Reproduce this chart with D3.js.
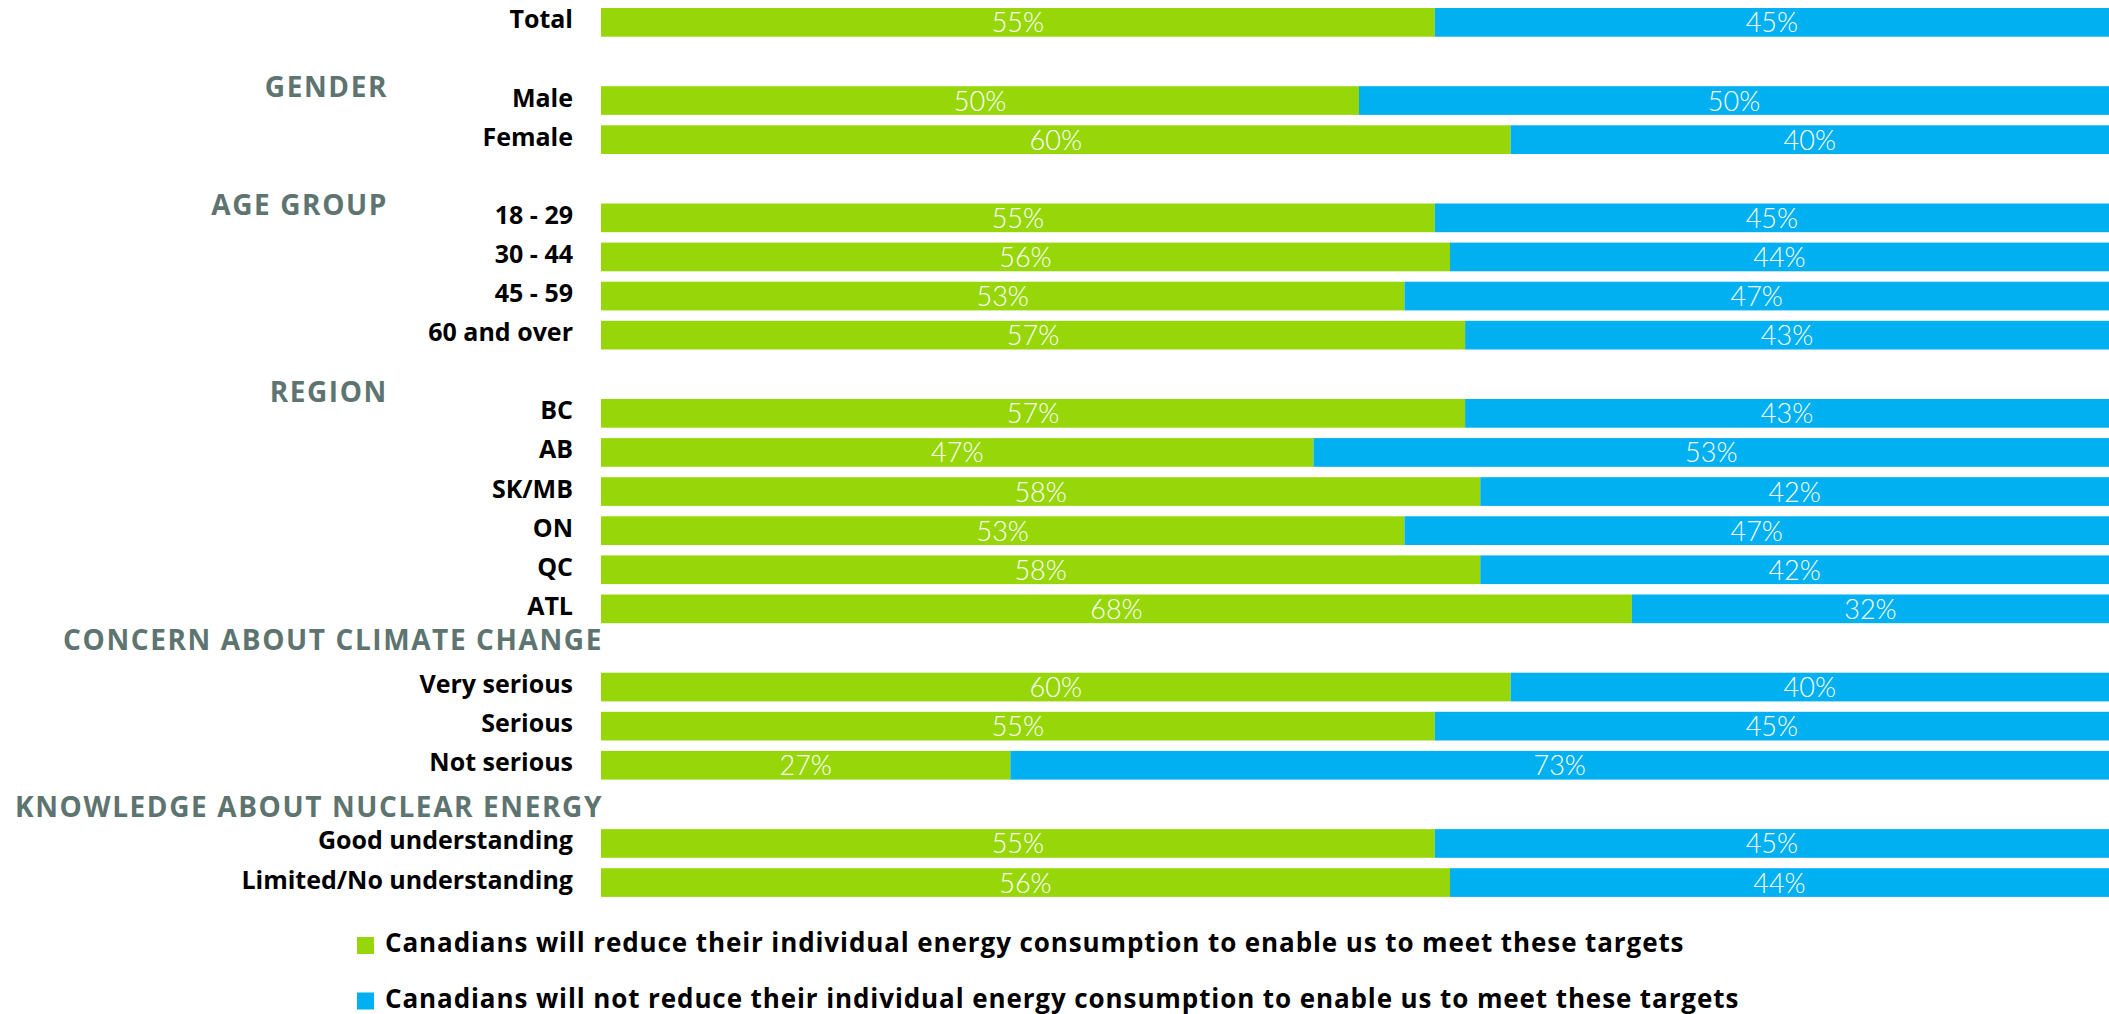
<!DOCTYPE html>
<html>
<head>
<meta charset="utf-8">
<script src="https://cdn.jsdelivr.net/npm/d3@7"></script>
<style>
  html, body { margin: 0; padding: 0; background: #fff; overflow: hidden; }
  svg { display: block; }
</style>
</head>
<body>
<svg id="chart" width="2109" height="1014"></svg>
<script>
// ---------------- DATA ----------------
const categories = ["Total", "Male", "Female", "18 - 29", "30 - 44", "45 - 59", "60 and over",
  "BC", "AB", "SK/MB", "ON", "QC", "ATL", "Very serious", "Serious", "Not serious",
  "Good understanding", "Limited/No understanding"];
const groupNames = ["", "GENDER", "AGE GROUP", "REGION", "CONCERN ABOUT CLIMATE CHANGE", "KNOWLEDGE ABOUT NUCLEAR ENERGY"];
const groupSizes = [1, 2, 4, 6, 3, 2];
const willReduce    = [55, 50, 60, 55, 56, 53, 57, 57, 47, 58, 53, 58, 68, 60, 55, 27, 55, 56];
const willNotReduce = [45, 50, 40, 45, 44, 47, 43, 43, 53, 42, 47, 42, 32, 40, 45, 73, 45, 44];
const seriesNames = [
  "Canadians will reduce their individual energy consumption to enable us to meet these targets",
  "Canadians will not reduce their individual energy consumption to enable us to meet these targets"
];

// ---------------- STYLE / LAYOUT ----------------
const W = 2109, H = 1014;
const colors = ["#97d70a", "#00b0f0"];
const headerColor = "#5e7470";
const headerOffsets = [0, -0.34, -0.33, -0.55, -1.2, -0.93]; // in row steps, relative to first row of the group
const headerRight = [0, 388, 388, 388, 603, 603];
const labelFont = "'Open Sans', Lato, sans-serif";
const valFont = "Lato, 'Open Sans', sans-serif";
const svg = d3.select("#chart");

// build row slots: group 0 has no gap, others preceded by one gap slot
const rows = [];
const headers = [];
let slot = 0, ci = 0;
groupSizes.forEach((n, g) => {
  if (g > 0) slot++; // gap slot
  if (groupNames[g]) headers.push({ name: groupNames[g], slot: slot, group: g });
  for (let k = 0; k < n; k++) {
    rows.push({ cat: categories[ci], a: willReduce[ci], b: willNotReduce[ci], slot: slot, group: g });
    slot++; ci++;
  }
});
const nSlots = slot;

const y = d3.scaleBand()
  .domain(d3.range(nSlots))
  .range([8, 8 + nSlots * 39.1 - 0.266 * 39.1])
  .paddingInner(0.266)
  .paddingOuter(0);

const x = d3.scaleLinear().domain([0, 100]).range([601, 2117]);
const step = y.step();
const bw = y.bandwidth();

// bars
const rowG = svg.append("g").selectAll("g").data(rows).join("g")
  .attr("transform", d => `translate(0,${y(d.slot)})`);

rowG.append("rect")
  .attr("x", x(0))
  .attr("y", 0)
  .attr("width", d => x(d.a) - x(0))
  .attr("height", bw)
  .attr("fill", colors[0]);

rowG.append("rect")
  .attr("x", d => x(d.a))
  .attr("y", 0)
  .attr("width", d => x(d.a + d.b) - x(d.a))
  .attr("height", bw)
  .attr("fill", colors[1]);

// value labels (centered on visible part of each segment)
rowG.append("text")
  .attr("x", d => (x(0) + x(d.a)) / 2)
  .attr("y", bw / 2 + 10)
  .attr("text-anchor", "middle")
  .attr("font-family", valFont)
  .attr("font-weight", 300)
  .attr("font-size", 27)
  .attr("fill", "#fff")
  .text(d => d.a + "%");

rowG.append("text")
  .attr("x", d => (x(d.a) + Math.min(x(d.a + d.b), W)) / 2)
  .attr("y", bw / 2 + 10)
  .attr("text-anchor", "middle")
  .attr("font-family", valFont)
  .attr("font-weight", 300)
  .attr("font-size", 27)
  .attr("fill", "#fff")
  .text(d => d.b + "%");

// category labels
rowG.append("text")
  .attr("x", 573)
  .attr("y", bw / 2 + 6)
  .attr("text-anchor", "end")
  .attr("font-family", labelFont)
  .attr("font-weight", 700)
  .attr("font-size", 25)
  .attr("fill", "#000")
  .text(d => d.cat);

// group headers
svg.append("g").selectAll("text").data(headers).join("text")
  .attr("x", d => headerRight[d.group])
  .attr("y", d => y(d.slot) + bw / 2 + 10 + headerOffsets[d.group] * step)
  .attr("text-anchor", "end")
  .attr("font-family", labelFont)
  .attr("font-weight", 700)
  .attr("font-size", 28)
  .attr("letter-spacing", 1.6)
  .attr("fill", headerColor)
  .text(d => d.name);

// legend
const leg = svg.append("g").selectAll("g").data(seriesNames).join("g")
  .attr("transform", (d, i) => `translate(357,${937 + i * 55.5})`);
leg.append("rect").attr("width", 17).attr("height", 17).attr("fill", (d, i) => colors[i]);
leg.append("text")
  .attr("x", 28)
  .attr("y", 15)
  .attr("font-family", labelFont)
  .attr("font-weight", 700)
  .attr("font-size", 26)
  .attr("letter-spacing", 0.9)
  .attr("fill", "#000")
  .text(d => d);
</script>
</body>
</html>
